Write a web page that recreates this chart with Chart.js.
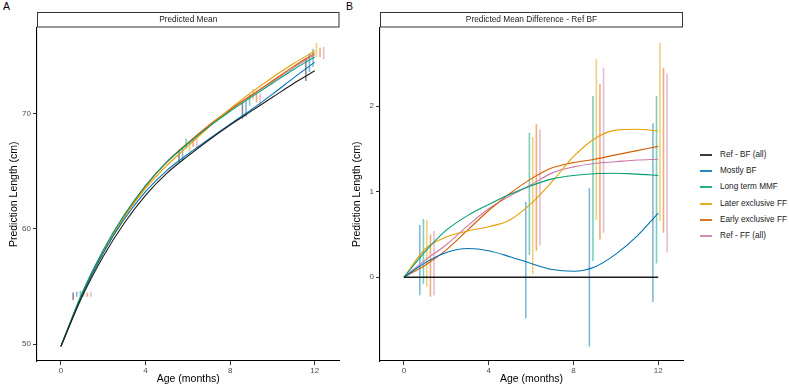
<!DOCTYPE html>
<html>
<head>
<meta charset="utf-8">
<script src="https://cdn.jsdelivr.net/npm/chart.js@4.4.1/dist/chart.umd.min.js"></script>
<style>
    body { margin: 0; width: 789px; height: 388px; background: #fff; position: relative; overflow: hidden; font-family: 'Liberation Sans', Arial, sans-serif; }
    canvas { position: absolute; top: 0; }
    #chartA { left: 0; }
    #chartB { left: 343px; }
    .tag { position: absolute; top: 0; font-size: 10.5px; line-height: 13px; color: #000; }
    .item { position: absolute; left: 700px; height: 10px; white-space: nowrap; font-size: 8.2px; line-height: 10px; color: #1a1a1a; }
    .item i { position: absolute; left: 0; top: 4px; width: 12px; height: 2px; opacity: 0.85; }
    .item span { position: absolute; left: 20px; top: 0; }
</style>
</head>
<body>
<div class="tag" style="left:3px">A</div>
<div class="tag" style="left:346px">B</div>
<canvas id="chartA" width="343" height="388"></canvas>
<canvas id="chartB" width="347" height="388"></canvas>
<div id="legend"></div>
<script>
// groups and colours
const groups = ['Ref - BF (all)', 'Mostly BF', 'Long term MMF', 'Later exclusive FF', 'Early exclusive FF', 'Ref - FF (all)'];
const colours = ['#1a1a1a', '#0072B2', '#009E73', '#E69F00', '#D55E00', '#CC79A7'];

const ages = [0, 1, 2, 3, 4, 5, 6, 7, 8, 9, 10, 11, 12];
const visits = [1, 6, 9, 12];
const dodge = [-0.42, -0.25, -0.08, 0.08, 0.25, 0.42];

const xTicks = [0, 4, 8, 12];
const yTicksA = [50, 60, 70];
const yTicksB = [0, 1, 2];

// A: predicted mean length (cm)
const meanRefBF = [49.8, 54.1, 57.6, 60.5, 62.9, 64.8, 66.3, 67.7, 69.0, 70.2, 71.4, 72.6, 73.7];
const meanMostlyBF = [49.8, 54.27, 57.89, 60.84, 63.21, 65.04, 66.46, 67.79, 69.07, 70.32, 71.67, 73.08, 74.45];
const meanLongMMF = [49.8, 54.4, 58.15, 61.22, 63.75, 65.77, 67.37, 68.85, 70.19, 71.41, 72.62, 73.81, 74.89];
const meanLaterFF = [49.8, 54.43, 58.07, 61.04, 63.49, 65.47, 67.16, 68.82, 70.41, 71.82, 73.12, 74.33, 75.41];
const meanEarlyFF = [49.8, 54.24, 57.92, 61.05, 63.68, 65.78, 67.45, 68.98, 70.34, 71.58, 72.83, 74.08, 75.23];
const meanRefFF = [49.8, 54.3, 57.98, 61.1, 63.7, 65.75, 67.38, 68.92, 70.29, 71.53, 72.75, 73.97, 75.08];

// A: intervals at visits
const lowA = [
    [53.81, 65.75, 69.54, 72.8],
    [54.1, 65.95, 69.7, 73.6],
    [54.1, 66.95, 70.67, 74.0],
    [54.1, 66.7, 71.2, 74.9],
    [54.1, 67.1, 70.95, 74.9],
    [54.1, 66.95, 70.7, 74.7]
];
const highA = [
    [54.47, 66.85, 70.97, 74.7],
    [54.53, 66.95, 71.1, 75.2],
    [54.62, 67.8, 71.67, 75.6],
    [54.6, 67.6, 72.1, 76.1],
    [54.45, 67.8, 71.67, 75.7],
    [54.53, 67.85, 71.7, 75.75]
];

// B: difference to Ref BF (cm)
const diffRefBF = [0, 0, 0, 0, 0, 0, 0, 0, 0, 0, 0, 0, 0];
const diffMostlyBF = [0, 0.17, 0.29, 0.335, 0.31, 0.24, 0.16, 0.09, 0.07, 0.12, 0.27, 0.48, 0.75];
const diffLongMMF = [0, 0.30, 0.55, 0.72, 0.85, 0.97, 1.07, 1.15, 1.19, 1.21, 1.215, 1.205, 1.19];
const diffLaterFF = [0, 0.33, 0.47, 0.54, 0.59, 0.67, 0.86, 1.12, 1.41, 1.62, 1.72, 1.73, 1.71];
const diffEarlyFF = [0, 0.14, 0.32, 0.55, 0.78, 0.98, 1.15, 1.28, 1.34, 1.38, 1.43, 1.48, 1.53];
const diffRefFF = [0, 0.2, 0.38, 0.6, 0.8, 0.95, 1.08, 1.22, 1.29, 1.33, 1.35, 1.37, 1.38];

const lowB = [
    null,
    [-0.21, -0.48, -0.81, -0.29],
    [-0.08, 0.26, 0.19, 0.16],
    [-0.11, 0.035, 0.67, 0.66],
    [-0.23, 0.31, 0.44, 0.52],
    [-0.21, 0.37, 0.52, 0.29]
];
const highB = [
    null,
    [0.61, 0.88, 1.04, 1.80],
    [0.68, 1.69, 2.12, 2.12],
    [0.67, 1.64, 2.55, 2.74],
    [0.50, 1.79, 2.26, 2.45],
    [0.54, 1.73, 2.45, 2.38]
];

Chart.defaults.font.family = "'Liberation Sans', Arial, sans-serif";

function fade(hex, a) {
    var n = parseInt(hex.slice(1), 16);
    return 'rgba(' + (n >> 16) + ',' + ((n >> 8) & 255) + ',' + (n & 255) + ',' + a + ')';
}

function buildDatasets(means, lows, highs, lineWidths) {
    var sets = [];
    means.forEach(function (m, g) {
        sets.push({
            data: ages.map(function (a, i) { return { x: a, y: m[i] }; }),
            borderColor: colours[g],
            borderWidth: lineWidths[g],
            pointRadius: 0,
            cubicInterpolationMode: 'monotone',
            order: 0
        });
    });
    lows.forEach(function (lo, g) {
        if (!lo) return;
        visits.forEach(function (t, k) {
            sets.push({
                data: [{ x: t + dodge[g], y: lo[k] }, { x: t + dodge[g], y: highs[g][k] }],
                borderColor: fade(colours[g], 0.5),
                borderWidth: 1.6,
                pointRadius: 0,
                order: 1
            });
        });
    });
    return sets;
}

const stripPlugin = {
    id: 'strip',
    afterDraw: function (chart, args, opts) {
        var ctx = chart.ctx, a = chart.chartArea;
        ctx.save();
        ctx.fillStyle = '#fff';
        ctx.fillRect(a.left, 12.5, a.right - a.left, 15);
        ctx.strokeStyle = '#333';
        ctx.lineWidth = 1;
        ctx.strokeRect(a.left + 0.5, 12.5, a.right - a.left - 1, 14.5);
        ctx.fillStyle = '#1a1a1a';
        ctx.font = "8.3px 'Liberation Sans', Arial, sans-serif";
        ctx.textAlign = 'center';
        ctx.textBaseline = 'middle';
        ctx.fillText(opts.text, (a.left + a.right) / 2, 20.2);
        ctx.restore();
    }
};

function makeScales(yMin, yMax, yTicks) {
    var grid = { drawOnChartArea: false, drawTicks: true, tickLength: 4, tickColor: '#333', lineWidth: 1 };
    var border = { display: true, color: '#000', width: 1.1 };
    return {
        x: {
            type: 'linear', min: -1.13, max: 13.17, offset: false,
            grid: grid, border: border,
            afterBuildTicks: function (s) { s.ticks = xTicks.map(function (v) { return { value: v }; }); },
            afterFit: function (s) { s.height = 27; },
            ticks: { color: '#4d4d4d', font: { size: 8 }, padding: 1, maxRotation: 0 },
            title: { display: true, text: 'Age (months)', color: '#000', font: { size: 10.5 }, padding: { top: 0, bottom: 2.7 } }
        },
        y: {
            type: 'linear', min: yMin, max: yMax,
            grid: grid, border: border,
            afterBuildTicks: function (s) { s.ticks = yTicks.map(function (v) { return { value: v }; }); },
            afterFit: function (s) { s.width = 37; },
            ticks: { color: '#4d4d4d', font: { size: 8 }, padding: 2 },
            title: { display: true, text: 'Prediction Length (cm)', color: '#000', font: { size: 10.5 }, padding: { top: 7.7, bottom: 0 } }
        }
    };
}

function makeChart(id, datasets, scales, stripText, padRight) {
    return new Chart(document.getElementById(id), {
        type: 'line',
        data: { datasets: datasets },
        options: {
            responsive: false,
            animation: false,
            events: [],
            layout: { padding: { top: 27.5, right: padRight, left: 0, bottom: 0 } },
            scales: scales,
            plugins: { legend: { display: false }, tooltip: { enabled: false }, strip: { text: stripText } }
        },
        plugins: [stripPlugin]
    });
}

makeChart('chartA',
    buildDatasets([meanRefBF, meanMostlyBF, meanLongMMF, meanLaterFF, meanEarlyFF, meanRefFF], lowA, highA, [1.1, 1.1, 1.1, 1.1, 1.1, 1.1]),
    makeScales(48.53, 77.45, yTicksA), 'Predicted Mean', 3.5);

makeChart('chartB',
    buildDatasets([diffRefBF, diffMostlyBF, diffLongMMF, diffLaterFF, diffEarlyFF, diffRefFF], lowB, highB, [1.6, 1.1, 1.1, 1.1, 1.1, 1.1]),
    makeScales(-0.98, 2.92, yTicksB), 'Predicted Mean Difference - Ref BF', 7);

// legend
var legend = document.getElementById('legend');
groups.forEach(function (name, g) {
    var row = document.createElement('div');
    row.className = 'item';
    row.style.top = Math.round(150 + g * 16.2) + 'px';
    row.innerHTML = '<i style="background:' + colours[g] + '"></i><span>' + name + '</span>';
    legend.appendChild(row);
});
</script>
</body>
</html>
